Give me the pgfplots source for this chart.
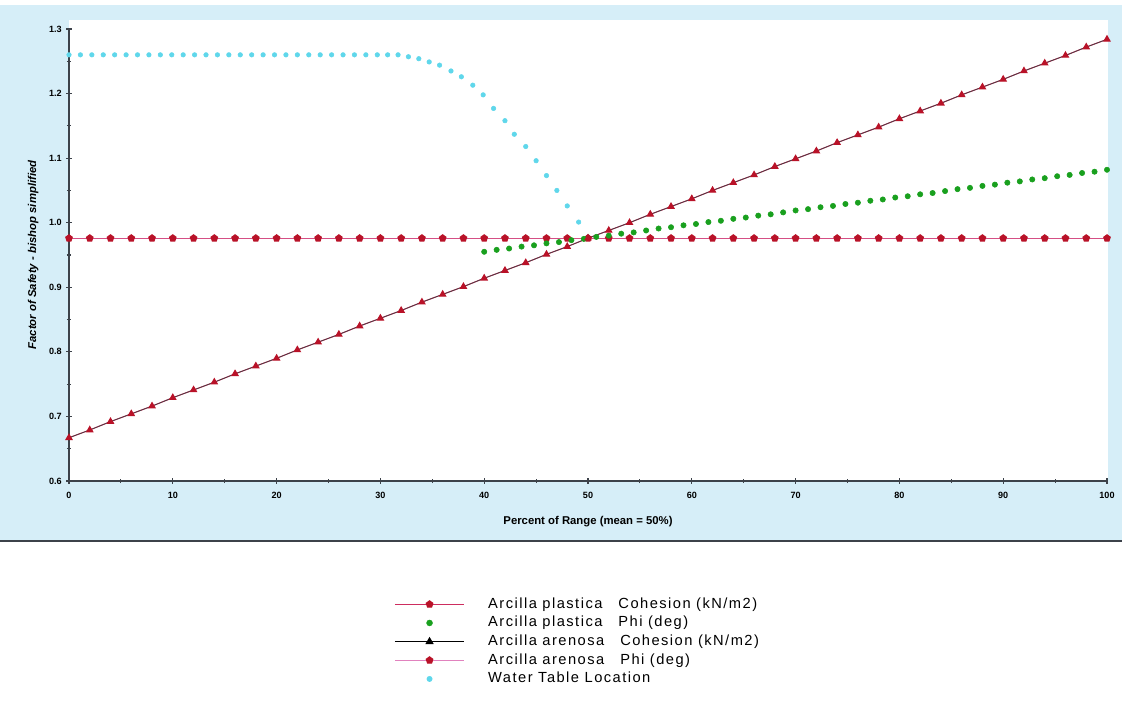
\documentclass[border=0pt]{standalone}
\usepackage{pgfplots}
\pgfplotsset{compat=1.18}
\usepackage{fontspec}
\setmainfont{Liberation Sans}
\definecolor{panel}{RGB}{214,238,248}
\definecolor{axgray}{RGB}{60,66,74}
\definecolor{linered}{RGB}{205,45,95}
\definecolor{markred}{RGB}{185,18,40}
\definecolor{mygreen}{RGB}{25,160,30}
\definecolor{mycyan}{RGB}{95,215,235}
\definecolor{pinkline}{RGB}{225,130,190}
\begin{document}
\begin{tikzpicture}[x=0.75pt,y=0.75pt]
\path[use as bounding box] (0,0) rectangle (1122,704);
\fill[panel] (0,163) rectangle (1122,699);
\draw[axgray,line width=1.6pt] (0,163) -- (1122,163);
\fill[white] (69,223) rectangle (1108,684);
\begin{axis}[
  at={(51.75pt,167.25pt)}, anchor=south west,
  scale only axis, width=778.5pt, height=339pt,
  xmin=0, xmax=100, ymin=0.6, ymax=1.3,
  axis lines=left, axis line style={axgray,line width=1.1pt,-},
  xtick={0,10,...,100}, ytick={0.6,0.7,...,1.3},
  minor xtick={5,15,...,95}, minor ytick={0.65,0.75,...,1.25},
  tick align=center, major tick length=4pt, minor tick length=3pt,
  tick style={axgray,line width=0.8pt},
  yticklabel style={/pgf/number format/fixed,/pgf/number format/precision=1,/pgf/number format/fixed zerofill},
  xticklabel style={yshift=-3pt},
  /pgf/number format/assume math mode=true,
  ticklabel style={font=\fontsize{6.8}{7}\selectfont\bfseries},
  xlabel={Percent of Range (mean = 50\%)},
  ylabel={Factor of Safety - bishop simplified},
  xlabel style={font=\fontsize{8.5}{9}\selectfont\bfseries, yshift=-6pt},
  ylabel style={font=\fontsize{8.5}{9}\selectfont\bfseries\itshape, yshift=1pt},
  legend image code/.code={\draw[mark repeat=2,mark phase=2,#1] plot coordinates {(0pt,0pt) (26pt,0pt) (52pt,0pt)};},
  legend style={at={(0.3092,-0.2456)}, anchor=north west, draw=none, fill=none,
    font=\fontsize{11}{12}\selectfont\addfontfeatures{LetterSpace=10}, row sep=0pt,
    nodes={inner sep=1.5pt, text height=8.5pt, text depth=2.5pt},
    /tikz/every odd column/.append style={column sep=16pt}},
  legend cell align=left,
]
% legend entries
\addlegendimage{linered, line width=0.8pt, mark=pentagon*, mark size=2.6pt, mark options={fill=markred, draw=markred}}
\addlegendentry{Arcilla plastica\hspace{12pt}Cohesion (kN/m2)}
\addlegendimage{only marks, mark=*, mark size=2.2pt, mark options={fill=mygreen, draw=mygreen}}
\addlegendentry{Arcilla plastica\hspace{12pt}Phi (deg)}
\addlegendimage{black, line width=1pt, mark=triangle*, mark size=2.6pt, mark options={fill=black, draw=black}}
\addlegendentry{Arcilla arenosa\hspace{12pt}Cohesion (kN/m2)}
\addlegendimage{pinkline, line width=0.8pt, mark=pentagon*, mark size=2.6pt, mark options={fill=markred, draw=markred}}
\addlegendentry{Arcilla arenosa\hspace{12pt}Phi (deg)}
\addlegendimage{only marks, mark=*, mark size=2pt, mark options={fill=mycyan, draw=mycyan}}
\addlegendentry{Water Table Location}

% Water table location
\addplot[forget plot, only marks, mark=*, mark size=1.7pt, mycyan] coordinates {
(0,1.260) (1.1,1.260) (2.2,1.260) (3.3,1.260) (4.4,1.260) (5.5,1.260) (6.6,1.260)
(7.7,1.260) (8.8,1.260) (9.9,1.260) (11.0,1.260) (12.1,1.260) (13.2,1.260) (14.3,1.260)
(15.4,1.260) (16.5,1.260) (17.6,1.260) (18.7,1.260) (19.8,1.260) (20.9,1.260) (22.0,1.260)
(23.1,1.260) (24.2,1.260) (25.3,1.260) (26.4,1.260) (27.5,1.260) (28.6,1.260) (29.7,1.260)
(30.7,1.260) (31.7,1.260) (32.7,1.257) (33.7,1.254) (34.7,1.249) (35.7,1.244) (36.8,1.235)
(37.8,1.226) (38.9,1.213) (39.9,1.198) (40.9,1.177) (42.0,1.158) (42.9,1.137) (44.0,1.118)
(45.0,1.096) (46.0,1.073) (47.0,1.050) (48.0,1.026) (49.1,1.001) (50.0,0.978)
};
% Arcilla arenosa Phi (horizontal)
\addplot[forget plot, pinkline!40!linered, line width=0.9pt, mark=pentagon*, mark size=2.5pt, mark options={fill=markred, draw=markred}] coordinates {
(0,0.976) (2,0.976) (4,0.976) (6,0.976) (8,0.976) (10,0.976) (12,0.976) (14,0.976) (16,0.976) (18,0.976)
(20,0.976) (22,0.976) (24,0.976) (26,0.976) (28,0.976) (30,0.976) (32,0.976) (34,0.976) (36,0.976) (38,0.976)
(40,0.976) (42,0.976) (44,0.976) (46,0.976) (48,0.976) (50,0.976) (52,0.976) (54,0.976) (56,0.976) (58,0.976)
(60,0.976) (62,0.976) (64,0.976) (66,0.976) (68,0.976) (70,0.976) (72,0.976) (74,0.976) (76,0.976) (78,0.976)
(80,0.976) (82,0.976) (84,0.976) (86,0.976) (88,0.976) (90,0.976) (92,0.976) (94,0.976) (96,0.976) (98,0.976) (100,0.976)
};
% Arcilla plastica Phi (green)
\addplot[forget plot, only marks, mark=*, mark size=2pt, mygreen] coordinates {
(40.0,0.955) (41.2,0.958) (42.4,0.960) (43.6,0.963) (44.8,0.965) (46.0,0.968) (47.2,0.970) (48.4,0.973)
(49.6,0.975) (50.8,0.978) (52.0,0.980) (53.2,0.983) (54.4,0.985) (55.6,0.988) (56.8,0.991) (58.0,0.993)
(59.2,0.996) (60.4,0.998) (61.6,1.001) (62.8,1.003) (64.0,1.006) (65.2,1.008) (66.4,1.011) (67.6,1.013)
(68.8,1.016) (70.0,1.019) (71.2,1.021) (72.4,1.024) (73.6,1.026) (74.8,1.029) (76.0,1.031) (77.2,1.034)
(78.4,1.036) (79.6,1.039) (80.8,1.041) (82.0,1.044) (83.2,1.046) (84.4,1.049) (85.6,1.052) (86.8,1.054)
(88.0,1.057) (89.2,1.059) (90.4,1.062) (91.6,1.064) (92.8,1.067) (94.0,1.069) (95.2,1.072) (96.4,1.074)
(97.6,1.077) (98.8,1.079) (100.0,1.082)
};
% Arcilla plastica Cohesion (diagonal, red marks)
\addplot[forget plot, linered, line width=0.8pt, mark=triangle*, mark size=2.6pt, mark options={fill=markred, draw=markred}] coordinates {
(0,0.667) (2,0.679) (4,0.692) (6,0.704) (8,0.716) (10,0.729) (12,0.741) (14,0.753) (16,0.766) (18,0.778)
(20,0.790) (22,0.803) (24,0.815) (26,0.827) (28,0.840) (30,0.852) (32,0.864) (34,0.877) (36,0.889) (38,0.901)
(40,0.914) (42,0.926) (44,0.938) (46,0.951) (48,0.963) (50,0.976) (52,0.988) (54,1.000) (56,1.013) (58,1.025)
(60,1.037) (62,1.050) (64,1.062) (66,1.074) (68,1.087) (70,1.099) (72,1.111) (74,1.124) (76,1.136) (78,1.148)
(80,1.161) (82,1.173) (84,1.185) (86,1.198) (88,1.210) (90,1.222) (92,1.235) (94,1.247) (96,1.259) (98,1.272) (100,1.284)
};
% Arcilla arenosa Cohesion (diagonal, black line)
\addplot[forget plot, black!75, line width=0.5pt, no marks] coordinates {
(0,0.667) (2,0.679) (4,0.692) (6,0.704) (8,0.716) (10,0.729) (12,0.741) (14,0.753) (16,0.766) (18,0.778)
(20,0.790) (22,0.803) (24,0.815) (26,0.827) (28,0.840) (30,0.852) (32,0.864) (34,0.877) (36,0.889) (38,0.901)
(40,0.914) (42,0.926) (44,0.938) (46,0.951) (48,0.963) (50,0.976) (52,0.988) (54,1.000) (56,1.013) (58,1.025)
(60,1.037) (62,1.050) (64,1.062) (66,1.074) (68,1.087) (70,1.099) (72,1.111) (74,1.124) (76,1.136) (78,1.148)
(80,1.161) (82,1.173) (84,1.185) (86,1.198) (88,1.210) (90,1.222) (92,1.235) (94,1.247) (96,1.259) (98,1.272) (100,1.284)
};
\end{axis}
\end{tikzpicture}
\end{document}
